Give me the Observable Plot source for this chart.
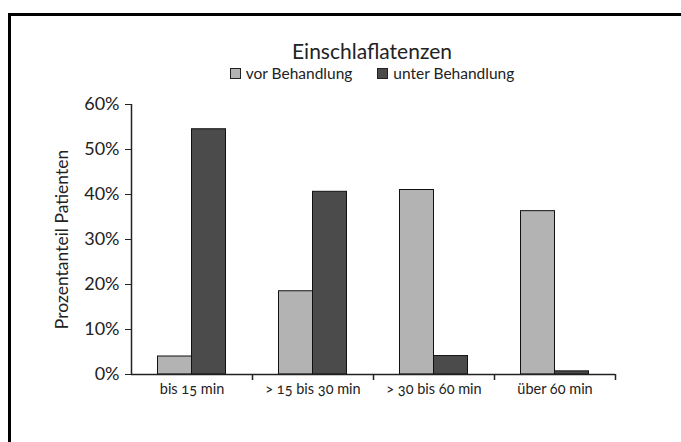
<!DOCTYPE html>
<html>
<head>
<meta charset="utf-8">
<script src="https://cdn.jsdelivr.net/npm/d3@7"></script>
<script src="https://cdn.jsdelivr.net/npm/@observablehq/plot@0.6"></script>
<style>
html, body { margin: 0; padding: 0; overflow: hidden; background: #fff; }
body { width: 681px; height: 442px; position: relative; font-family: Lato, "Open Sans", sans-serif; color: #222; font-variant-numeric: oldstyle-nums; }
#frame { position: absolute; left: 8px; top: 13px; width: 700px; height: 460px; border-left: 3px solid #000; border-top: 3px solid #000; }
#title { position: absolute; left: 0; width: 744px; top: 39px; text-align: center; font-size: 21px; line-height: 24px; }
#legend { position: absolute; left: 0; width: 744px; top: 64px; display: flex; justify-content: center; gap: 25px; font-size: 15.5px; line-height: 18px; }
#legend .item { display: flex; align-items: center; gap: 5px; }
#legend .sw { width: 9px; height: 9px; border: 1px solid #222; display: inline-block; }
#chart { position: absolute; left: 0; top: 82px; }
#chart svg { font-family: Lato, "Open Sans", sans-serif; font-variant-numeric: oldstyle-nums; }
#chart g[aria-label="y-axis label"] text { font-size: 17.5px; }
</style>
</head>
<body>
<div id="frame"></div>
<div id="title">Einschlaflatenzen</div>
<div id="legend"></div>
<div id="chart"></div>
<script>
const categories = ["bis 15 min", "> 15 bis 30 min", "> 30 bis 60 min", "über 60 min"];
const seriesNames = ["vor Behandlung", "unter Behandlung"];
const vorBehandlung = [4, 18.5, 41, 36.3];
const unterBehandlung = [54.5, 40.6, 4.1, 0.7];
const yTicks = [0, 10, 20, 30, 40, 50, 60];
const seriesColors = ["#b3b3b3", "#4b4b4b"];

const rows = categories.map((c, i) => ({category: c, vor: vorBehandlung[i], unter: unterBehandlung[i]}));

const W = 681, H = 360, mL = 131, mR = 66, mT = 22, mB = 68;
const step = (W - mL - mR) / categories.length;
const outer = step * 0.219;
const half = step * 0.5;

// legend
const legend = document.getElementById("legend");
seriesNames.forEach((name, i) => {
  const item = document.createElement("span");
  item.className = "item";
  const sw = document.createElement("span");
  sw.className = "sw";
  sw.style.background = seriesColors[i];
  item.appendChild(sw);
  item.appendChild(document.createTextNode(name));
  legend.appendChild(item);
});

const chart = Plot.plot({
  width: W, height: H,
  marginLeft: mL, marginRight: mR, marginTop: mT, marginBottom: mB,
  style: {fontSize: "14px", color: "#222", background: "transparent"},
  x: {type: "band", domain: categories, padding: 0},
  y: {domain: [0, 60]},
  marks: [
    Plot.barY(rows, {x: "category", y: "vor", fill: seriesColors[0], stroke: "#111", strokeWidth: 1, insetLeft: outer, insetRight: half}),
    Plot.barY(rows, {x: "category", y: "unter", fill: seriesColors[1], stroke: "#111", strokeWidth: 1, insetLeft: half, insetRight: outer}),
    Plot.ruleY([0], {stroke: "#222", strokeWidth: 1.5}),
    Plot.ruleX([categories[0]], {dx: -step / 2, stroke: "#222", strokeWidth: 1.5}),
    Plot.axisY({ticks: yTicks, tickFormat: d => d + "%", tickSize: 6, tickPadding: 6, fontSize: 18,
      label: "Prozentanteil Patienten", labelArrow: false, labelAnchor: "center", labelOffset: 76, stroke: "#222"}),
    Plot.axisX({tickSize: 0, tickPadding: 9, fontSize: 14.5, label: null}),
    Plot.axisX({tickSize: 6, tickFormat: () => "", dx: step / 2, label: null, stroke: "#222", strokeWidth: 1.5})
  ]
});
document.getElementById("chart").appendChild(chart);
</script>
</body>
</html>
